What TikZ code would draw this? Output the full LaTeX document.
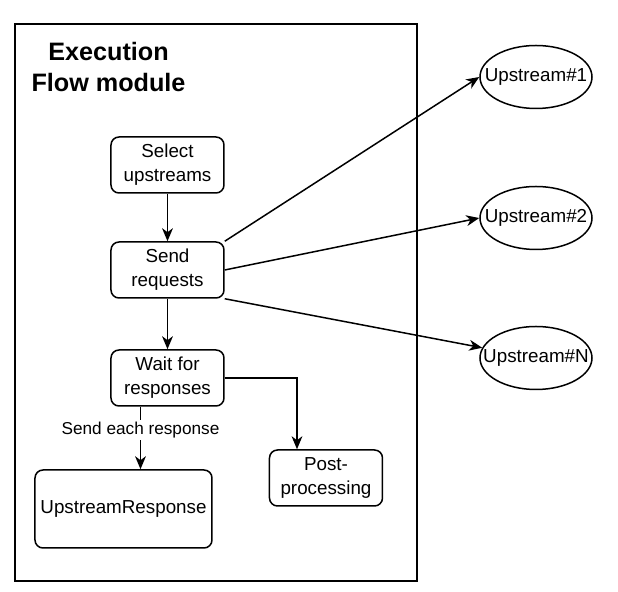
\documentclass[tikz,border=0pt]{standalone}
\usepackage{fontspec}
\setmainfont{Liberation Sans}
\usetikzlibrary{arrows.meta,shapes.geometric}

\begin{document}
\begin{tikzpicture}[x=0.5pt,y=-0.5pt,line width=0.75pt,
	box/.style={draw,rounded corners=4pt,align=center,inner sep=0pt,
		minimum width=56.5pt,minimum height=28pt,font=\fontsize{9.4}{12}\selectfont},
	oval/.style={draw,ellipse,inner sep=0pt,minimum width=56pt,minimum height=31.5pt,
		font=\fontsize{9.4}{12}\selectfont},
	pfeil/.style={-{Stealth[length=6.5pt,width=5.4pt,inset=2pt]}}]
	\useasboundingbox (0,0) rectangle (618,592);
	%Rahmen zeichnen
	\draw (15,24) rectangle (417,581);
	\node[align=center,font=\fontsize{12.6}{15.5}\selectfont\bfseries] (titel) at (108.5,67.5) {Execution\\Flow module};
	% Kaesten
	\node[box] (select) at (167.5,165) {Select\\upstreams};
	\node[box] (send) at (167.5,270) {Send\\requests};
	\node[box] (wait) at (167.5,378) {Wait for\\responses};
	\node[box,minimum width=88.5pt,minimum height=39pt] (resp) at (123.5,509) {UpstreamResponse};
	\node[box] (post) at (326,478) {Post-\\processing};
	% Upstreams
	\node[oval] (u1) at (536,77) {\makebox[0pt]{Upstream\#1}};
	\node[oval] (u2) at (536,218) {\makebox[0pt]{Upstream\#2}};
	\node[oval] (uN) at (536,358) {\makebox[0pt]{Upstream\#N}};
	%Pfeile
	\draw[pfeil] (select) -- (send);
	\draw[pfeil] (send) -- (wait);
	\draw[pfeil] (send.north east) -- (u1.west);
	\draw[pfeil] (send.east) -- (u2.west);
	\draw[pfeil] (send.south east) -- (uN);
	\draw[pfeil] (wait.east) -| ([xshift=-14.5pt]post.north);
	\draw[pfeil] ([xshift=-13.5pt]wait.south) -- ([xshift=-13.5pt]wait.south |- resp.north)
		node[pos=0.37,fill=white,inner sep=1pt,font=\fontsize{8.6}{10}\selectfont] {Send each response};
\end{tikzpicture}
\end{document}
